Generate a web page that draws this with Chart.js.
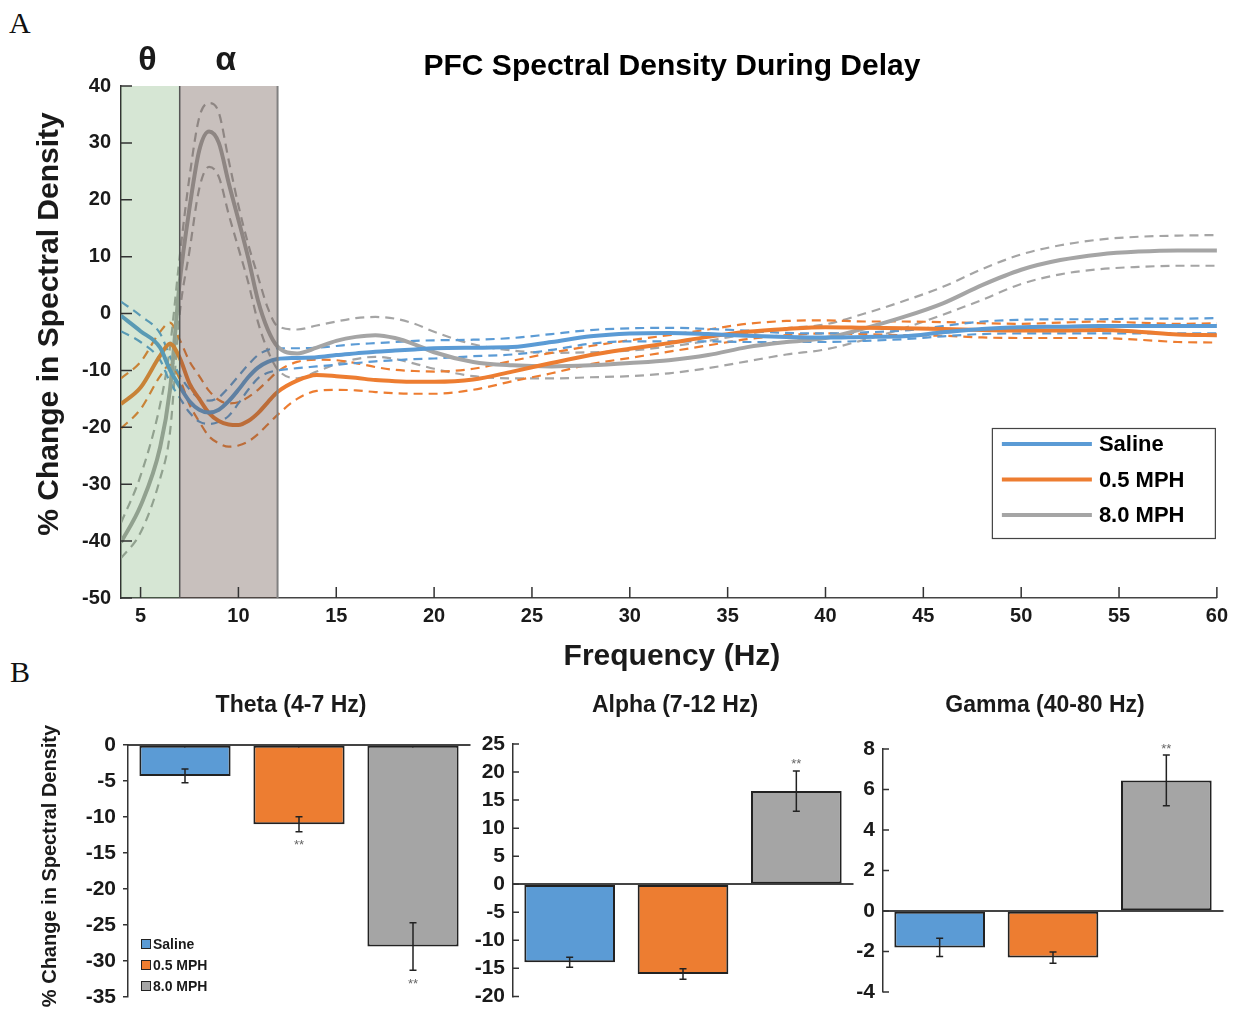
<!DOCTYPE html>
<html>
<head>
<meta charset="utf-8">
<title>PFC Spectral Density During Delay</title>
<script src="https://cdn.jsdelivr.net/npm/chart.js@4.4.1/dist/chart.umd.min.js"></script>
<style>
  html, body { margin: 0; padding: 0; background: #fff; }
  #page { position: relative; width: 1234px; height: 1017px; overflow: hidden; }
  canvas { position: absolute; }
  .panel-letter { position: absolute; font-family: "Liberation Serif", "Times New Roman", serif; font-size: 30px; line-height: 1; color: #111; }
</style>
</head>
<body>
<div id="page">
  <div class="panel-letter" style="left:9px; top:8px;">A</div>
  <div class="panel-letter" style="left:10px; top:657px;">B</div>
  <canvas id="spectrum" width="1234" height="680" style="left:0; top:0;"></canvas>
  <canvas id="theta" width="475" height="337" style="left:0; top:680px;"></canvas>
  <canvas id="alpha" width="395" height="337" style="left:465px; top:680px;"></canvas>
  <canvas id="gamma" width="399" height="337" style="left:835px; top:680px;"></canvas>
</div>
<script>
// ---- Panel A data: % change in spectral density vs frequency ----
const freqs = [4, 5, 6, 6.5, 7, 7.5, 8, 8.5, 9, 9.5, 10, 10.5, 11, 11.5, 12,
  13, 14, 15, 16, 17, 18, 19, 20,
  22, 24, 26, 28, 30, 32, 34, 36, 38, 40, 42, 44, 46, 48, 50, 52, 54, 56, 58, 60];

const salineMean = [-0.4, -3.1, -6.0, -9.9, -12.8, -15.4, -16.9, -17.4, -16.9, -15.4, -13.4, -11.2, -9.5, -8.5, -8.0,
  -7.8, -7.7, -7.3, -7.0, -6.7, -6.5, -6.3, -6.1,
  -6.0, -5.9, -5.0, -4.0, -3.5, -3.4, -3.6, -3.9, -4.1, -4.2, -4.1, -4.0, -3.3, -2.7, -2.4, -2.3, -2.2, -2.2, -2.2, -2.2];
const salineUpper = [2.1, -0.4, -3.5, -7.5, -10.8, -13.3, -14.9, -15.3, -14.7, -13.0, -11.0, -9.0, -7.3, -6.4, -6.1,
  -6.1, -6.0, -5.7, -5.4, -5.2, -5.0, -4.8, -4.7,
  -4.6, -4.3, -3.6, -2.9, -2.6, -2.5, -2.7, -3.0, -3.4, -3.5, -3.3, -3.0, -2.2, -1.4, -1.1, -1.0, -1.0, -0.9, -0.9, -0.8];
const salineLower = [-3.1, -5.0, -8.2, -12.0, -14.8, -17.4, -19.0, -19.4, -19.0, -18.0, -15.8, -13.4, -11.4, -10.4, -10.0,
  -9.6, -9.3, -9.0, -8.7, -8.4, -8.2, -8.0, -7.9,
  -7.5, -7.2, -6.4, -5.3, -4.9, -4.9, -4.9, -5.0, -5.0, -5.0, -4.8, -4.5, -4.0, -3.6, -3.5, -3.5, -3.5, -3.5, -3.5, -3.5];

const mph05Mean = [-15.9, -13.0, -7.4, -5.3, -7.8, -12.3, -15.0, -17.5, -18.9, -19.5, -19.6, -18.9, -17.5, -15.6, -13.8,
  -11.8, -10.8, -11.0, -11.3, -11.7, -11.9, -12.0, -12.0,
  -11.6, -10.2, -8.7, -7.3, -6.2, -5.2, -4.1, -3.2, -2.7, -2.4, -2.5, -2.6, -2.7, -2.9, -3.0, -3.0, -2.9, -3.2, -3.7, -3.8];
const mph05Upper = [-11.4, -8.5, -3.2, -1.6, -4.6, -8.4, -11.0, -13.6, -15.2, -15.8, -15.6, -14.7, -13.4, -11.8, -10.2,
  -8.5, -8.1, -8.2, -8.7, -9.4, -9.9, -10.1, -10.2,
  -9.7, -8.3, -6.9, -5.7, -4.7, -3.8, -2.8, -1.8, -1.3, -1.2, -1.4, -1.4, -1.5, -1.7, -1.8, -1.6, -1.4, -1.6, -1.8, -1.7];
const mph05Lower = [-20.2, -16.8, -11.0, -9.0, -11.5, -16.0, -19.0, -21.6, -22.8, -23.4, -23.2, -22.5, -21.2, -19.5, -17.8,
  -15.0, -13.6, -13.4, -13.5, -13.8, -14.0, -14.1, -14.1,
  -13.4, -11.9, -10.5, -8.9, -7.8, -6.7, -5.6, -4.5, -3.8, -3.5, -3.6, -3.8, -3.9, -4.2, -4.3, -4.3, -4.3, -4.6, -5.0, -5.1];

const mph8Mean = [-40.2, -33.8, -23.5, -13.5, 5.5, 18.5, 28.7, 32.0, 30.0, 23.0, 16.5, 9.8, 2.3, -2.8, -5.8,
  -7.0, -6.0, -4.8, -4.1, -3.8, -4.3, -5.4, -6.8,
  -8.5, -9.1, -9.3, -9.1, -8.7, -8.2, -7.3, -5.9, -5.0, -4.3, -2.6, -0.6, 1.8, 5.0, 7.7, 9.4, 10.4, 10.9, 11.1, 11.1];
const mph8Upper = [-36.8, -28.5, -16.0, -6.0, 10.0, 24.0, 34.5, 37.0, 35.3, 27.0, 19.0, 12.2, 6.5, 1.0, -2.2,
  -2.8, -2.1, -1.4, -0.8, -0.6, -0.9, -1.8, -3.2,
  -5.4, -6.5, -6.9, -6.8, -6.5, -5.8, -4.8, -3.6, -2.6, -1.9, 0.0, 2.2, 4.7, 7.8, 10.4, 12.0, 13.0, 13.5, 13.7, 13.8];
const mph8Lower = [-43.0, -38.5, -29.0, -21.0, 0.0, 11.0, 22.0, 25.8, 24.0, 17.5, 11.5, 5.5, -1.5, -6.5, -9.8,
  -11.4, -10.2, -8.9, -8.0, -7.6, -8.0, -8.8, -9.7,
  -11.0, -11.4, -11.4, -11.2, -11.0, -10.5, -9.6, -8.4, -7.2, -6.3, -4.6, -2.6, -0.2, 2.4, 5.2, 6.9, 7.8, 8.2, 8.4, 8.4];

const xTicks = [5, 10, 15, 20, 25, 30, 35, 40, 45, 50, 55, 60];
const yTicksMin = -50, yTicksMax = 40, yTicksStep = 10;

// frequency bands shaded on panel A
const bandFrom = [4, 7];
const bandTo = [7, 12];
const bandSymbols = ['θ', 'α'];

// ---- Panel B data: band averages with SEM ----
const groupNames = ['Saline', '0.5 MPH', '8.0 MPH'];
const thetaValues = [-4.3, -11.0, -28.0];
const thetaErrors = [0.95, 1.05, 3.3];
const thetaStars = ['', '**', '**'];
const alphaValues = [-13.9, -16.0, 16.6];
const alphaErrors = [0.9, 0.95, 3.6];
const alphaStars = ['', '', '**'];
const gammaValues = [-1.8, -2.3, 6.45];
const gammaErrors = [0.45, 0.28, 1.25];
const gammaStars = ['', '', '**'];

// styles
const groupColors = ['#5B9BD5', '#ED7D31', '#A5A5A5'];
const bandFills = ['rgba(84,150,74,0.24)', 'rgba(103,81,72,0.36)'];
const bandEdges = ['#555555', '#808080'];
const FONT = '"Liberation Sans", Arial, Helvetica, sans-serif';
const INK = '#1a1a1a';

function pts(arr) {
    return freqs.map((f, i) => ({ x: f, y: arr[i] }));
}

// ---------------- Panel A ----------------
const spectrumGroups = [
    { mean: salineMean, upper: salineUpper, lower: salineLower },
    { mean: mph05Mean, upper: mph05Upper, lower: mph05Lower },
    { mean: mph8Mean, upper: mph8Upper, lower: mph8Lower }
];

const spectrumDatasets = [];
// solid means first so they sit on top
spectrumGroups.forEach((g, i) => {
    spectrumDatasets.push({
        label: groupNames[i],
        data: pts(g.mean),
        borderColor: groupColors[i],
        borderWidth: 4,
        pointRadius: 0,
        cubicInterpolationMode: 'monotone',
        fill: false
    });
});
spectrumGroups.forEach((g, i) => {
    [g.upper, g.lower].forEach(arr => {
        spectrumDatasets.push({
            label: '',
            data: pts(arr),
            borderColor: groupColors[i],
            borderWidth: 2.2,
            borderDash: [9, 6],
            pointRadius: 0,
            cubicInterpolationMode: 'monotone',
            fill: false
        });
    });
});

const spectrumDecor = {
    id: 'spectrumDecor',
    afterDatasetsDraw(chart) {
        const { ctx, chartArea: a, scales: { x } } = chart;
        ctx.save();
        // shaded bands laid over the curves
        bandFrom.forEach((f, i) => {
            const x0 = x.getPixelForValue(f);
            const x1 = x.getPixelForValue(bandTo[i]);
            ctx.fillStyle = bandFills[i];
            ctx.fillRect(x0, a.top, x1 - x0, a.bottom - a.top);
        });
        bandTo.forEach((f, i) => {
            const px = x.getPixelForValue(f);
            ctx.strokeStyle = bandEdges[i];
            ctx.lineWidth = i === 0 ? 1.5 : 2;
            ctx.beginPath();
            ctx.moveTo(px, a.top);
            ctx.lineTo(px, a.bottom);
            ctx.stroke();
        });
        ctx.restore();
    },
    afterDraw(chart) {
        const { ctx, chartArea: a, scales: { x, y } } = chart;
        ctx.save();
        // inward tick marks
        ctx.strokeStyle = '#333';
        ctx.lineWidth = 1.5;
        ctx.beginPath();
        x.ticks.forEach(t => {
            const px = x.getPixelForValue(t.value);
            ctx.moveTo(px, a.bottom);
            ctx.lineTo(px, a.bottom - 11);
        });
        y.ticks.forEach(t => {
            const py = y.getPixelForValue(t.value);
            ctx.moveTo(a.left, py);
            ctx.lineTo(a.left + 11, py);
        });
        ctx.stroke();

        ctx.fillStyle = INK;
        ctx.textAlign = 'center';
        ctx.textBaseline = 'middle';
        // band symbols
        ctx.font = 'bold 34px ' + FONT;
        bandSymbols.forEach((s, i) => {
            const px = x.getPixelForValue((bandFrom[i] + bandTo[i]) / 2);
            ctx.fillText(s, px - 3, 61);
        });
        // title and axis titles
        const cx = (a.left + a.right) / 2 + 3;
        ctx.font = 'bold 30px ' + FONT;
        ctx.fillStyle = '#000';
        ctx.fillText('PFC Spectral Density During Delay', cx, 67);
        ctx.fillStyle = INK;
        ctx.fillText('Frequency (Hz)', cx, 657);
        ctx.save();
        ctx.translate(50, (a.top + a.bottom) / 2 - 18);
        ctx.rotate(-Math.PI / 2);
        ctx.fillText('% Change in Spectral Density', 0, 0);
        ctx.restore();

        // legend box
        const bw = 223, bh = 110;
        const bx = a.right - 2 - bw, by = a.top + 342;
        ctx.strokeStyle = '#444';
        ctx.lineWidth = 1.2;
        ctx.strokeRect(bx + 0.5, by + 0.5, bw, bh);
        ctx.textAlign = 'left';
        ctx.font = 'bold 22px ' + FONT;
        groupNames.forEach((name, i) => {
            const ry = by + 16 + i * 35.5;
            ctx.strokeStyle = groupColors[i];
            ctx.lineWidth = 4;
            ctx.beginPath();
            ctx.moveTo(bx + 10, ry);
            ctx.lineTo(bx + 100, ry);
            ctx.stroke();
            ctx.fillStyle = '#000';
            ctx.fillText(name, bx + 107, ry + 1);
        });
        ctx.restore();
    }
};

new Chart(document.getElementById('spectrum'), {
    type: 'line',
    data: { datasets: spectrumDatasets },
    options: {
        responsive: false,
        animation: false,
        layout: { autoPadding: false, padding: { left: 0, right: 17, top: 86, bottom: 0 } },
        plugins: { legend: { display: false }, title: { display: false }, tooltip: { enabled: false } },
        scales: {
            x: {
                type: 'linear',
                min: 4,
                max: 60,
                afterBuildTicks: s => { s.ticks = xTicks.map(v => ({ value: v })); },
                afterFit: s => { s.height = 82; },
                grid: { display: false, drawTicks: false },
                border: { display: true, color: '#444', width: 1.5 },
                ticks: { color: INK, font: { family: FONT, weight: 'bold', size: 20 }, padding: 6, maxRotation: 0, autoSkip: false }
            },
            y: {
                min: yTicksMin,
                max: yTicksMax,
                afterFit: s => { s.width = 121; },
                grid: { display: false, drawTicks: false },
                border: { display: true, color: '#333', width: 1.5 },
                ticks: { stepSize: yTicksStep, color: INK, font: { family: FONT, weight: 'bold', size: 20 }, padding: 10 }
            }
        }
    },
    plugins: [spectrumDecor]
});

// ---------------- Panel B ----------------
function makeBarChart(canvasId, panel) {
    const decor = {
        id: 'barDecor',
        afterDatasetsDraw(chart) {
            const { ctx, chartArea: a, scales: { y } } = chart;
            const meta = chart.getDatasetMeta(0);
            ctx.save();
            // error bars
            ctx.strokeStyle = '#222';
            ctx.lineWidth = 1.5;
            ctx.beginPath();
            meta.data.forEach((bar, i) => {
                const v = panel.values[i], e = panel.errors[i];
                const yHi = y.getPixelForValue(v + e);
                const yLo = y.getPixelForValue(v - e);
                ctx.moveTo(bar.x, yHi); ctx.lineTo(bar.x, yLo);
                ctx.moveTo(bar.x - 3.5, yHi); ctx.lineTo(bar.x + 3.5, yHi);
                ctx.moveTo(bar.x - 3.5, yLo); ctx.lineTo(bar.x + 3.5, yLo);
            });
            ctx.stroke();
            // significance marks
            ctx.fillStyle = '#666';
            ctx.font = '13px ' + FONT;
            ctx.textAlign = 'center';
            ctx.textBaseline = 'alphabetic';
            meta.data.forEach((bar, i) => {
                if (!panel.stars[i]) return;
                const v = panel.values[i], e = panel.errors[i];
                const cy = v < 0 ? y.getPixelForValue(v - e) + 10 : y.getPixelForValue(v + e) - 10;
                ctx.fillText(panel.stars[i], bar.x, cy + 7.5);
            });
            // inward y ticks for the right-hand panels
            if (panel.inwardTicks) {
                ctx.strokeStyle = '#333';
                ctx.lineWidth = 1.5;
                ctx.beginPath();
                y.ticks.forEach(t => {
                    const py = y.getPixelForValue(t.value);
                    ctx.moveTo(a.left, py);
                    ctx.lineTo(a.left + 6, py);
                });
                ctx.stroke();
            }
            ctx.restore();
        },
        afterDraw(chart) {
            const { ctx, chartArea: a } = chart;
            ctx.save();
            ctx.fillStyle = INK;
            ctx.textAlign = 'center';
            ctx.textBaseline = 'middle';
            ctx.font = 'bold 23px ' + FONT;
            ctx.fillText(panel.title, (a.left + a.right) / 2 - 8, 26);
            if (panel.yTitle) {
                ctx.font = 'bold 20px ' + FONT;
                ctx.save();
                ctx.translate(50, (a.top + a.bottom) / 2 - 5);
                ctx.rotate(-Math.PI / 2);
                ctx.fillText(panel.yTitle, 0, 0);
                ctx.restore();
            }
            if (panel.legend) {
                ctx.textAlign = 'left';
                ctx.font = 'bold 14px ' + FONT;
                groupNames.forEach((name, i) => {
                    const ry = a.top + 199 + i * 21;
                    ctx.fillStyle = groupColors[i];
                    ctx.fillRect(a.left + 13.5, ry - 4.5, 9, 9);
                    ctx.strokeStyle = '#222';
                    ctx.lineWidth = 1;
                    ctx.strokeRect(a.left + 13.5, ry - 4.5, 9, 9);
                    ctx.fillStyle = INK;
                    ctx.fillText(name, a.left + 25, ry + 1);
                });
            }
            ctx.restore();
        }
    };

    return new Chart(document.getElementById(canvasId), {
        type: 'bar',
        data: {
            labels: groupNames,
            datasets: [{
                data: panel.values,
                backgroundColor: groupColors,
                borderColor: '#222',
                borderWidth: 2,
                borderSkipped: false,
                barPercentage: 0.8,
                categoryPercentage: 1.0
            }]
        },
        options: {
            responsive: false,
            animation: false,
            layout: { autoPadding: false, padding: panel.padding },
            plugins: { legend: { display: false }, title: { display: false }, tooltip: { enabled: false } },
            scales: {
                x: {
                    position: { y: 0 },
                    grid: { drawOnChartArea: false, offset: false, drawTicks: panel.xTickLength > 0, tickLength: panel.xTickLength, color: '#444', lineWidth: 1.5 },
                    border: { display: true, color: '#444', width: 2 },
                    ticks: { display: false }
                },
                y: {
                    min: panel.yMin,
                    max: panel.yMax,
                    afterFit: s => { s.width = panel.axisWidth; },
                    grid: { drawOnChartArea: false, drawTicks: !panel.inwardTicks, tickLength: 5, color: '#333', lineWidth: 1.5 },
                    border: { display: true, color: '#333', width: 1.5 },
                    ticks: { stepSize: panel.yStep, color: INK, font: { family: FONT, weight: 'bold', size: 21 }, padding: panel.inwardTicks ? 8 : 7 }
                }
            }
        },
        plugins: [decor]
    });
}

makeBarChart('theta', {
    title: 'Theta (4-7 Hz)', yTitle: '% Change in Spectral Density', legend: true,
    values: thetaValues, errors: thetaErrors, stars: thetaStars,
    yMin: -35, yMax: 0, yStep: 5, axisWidth: 128, inwardTicks: false, xTickLength: 4,
    padding: { left: 0, right: 5, top: 65, bottom: 20 }
});
makeBarChart('alpha', {
    title: 'Alpha (7-12 Hz)',
    values: alphaValues, errors: alphaErrors, stars: alphaStars,
    yMin: -20, yMax: 25, yStep: 5, axisWidth: 48, inwardTicks: true, xTickLength: 0,
    padding: { left: 0, right: 7, top: 64, bottom: 18 }
});
makeBarChart('gamma', {
    title: 'Gamma (40-80 Hz)',
    values: gammaValues, errors: gammaErrors, stars: gammaStars,
    yMin: -4, yMax: 8, yStep: 2, axisWidth: 48, inwardTicks: true, xTickLength: 0,
    padding: { left: 0, right: 11, top: 69, bottom: 25 }
});
</script>
</body>
</html>
